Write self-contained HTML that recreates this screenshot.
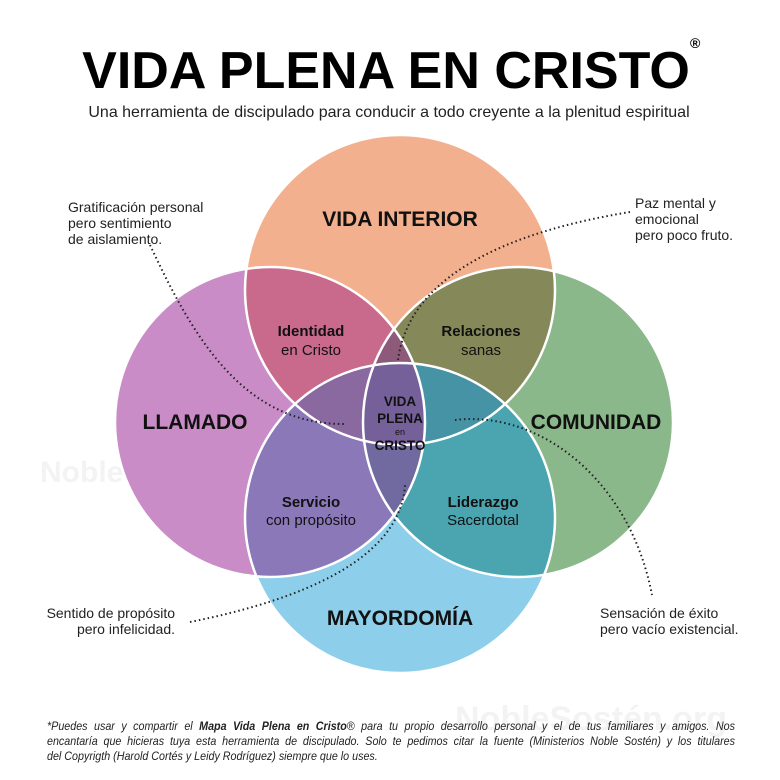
<!DOCTYPE html><html><head><meta charset="utf-8"><style>
body{margin:0;width:780px;height:780px;background:#fff;font-family:"Liberation Sans",sans-serif;overflow:hidden;position:relative}
.f{position:absolute;left:47px;width:770px;top:719px;font-size:12px;font-style:italic;line-height:15px;color:#222;transform:scaleX(0.8935);transform-origin:0 0}
.f div{text-align:justify;text-align-last:justify;white-space:nowrap}
.f div.l{text-align-last:left}
</style></head><body>
<svg width="780" height="780" style="position:absolute;left:0;top:0" font-family="Liberation Sans, sans-serif">
<defs>
<clipPath id="cT"><circle cx="400" cy="290" r="155"/></clipPath>
<clipPath id="cL"><circle cx="270" cy="422" r="155"/></clipPath>
<clipPath id="cR"><circle cx="518" cy="422" r="155"/></clipPath>
<clipPath id="cB"><circle cx="400" cy="518" r="155"/></clipPath>
</defs>
<text x="40" y="482" font-size="30" font-weight="bold" fill="#f3f3f3">NobleSostén.org</text>
<text x="455" y="730" font-size="34" font-weight="bold" fill="#f3f3f3">NobleSostén.org</text>
<circle cx="400" cy="518" r="155" fill="#8dcfea"/>
<circle cx="270" cy="422" r="155" fill="#c98cc6"/>
<circle cx="518" cy="422" r="155" fill="#8ab88a"/>
<circle cx="400" cy="290" r="155" fill="#f2b08f"/>
<g clip-path="url(#cT)"><circle cx="270" cy="422" r="155" fill="#c96a8c"/><circle cx="518" cy="422" r="155" fill="#85895a"/></g>
<g clip-path="url(#cB)"><circle cx="270" cy="422" r="155" fill="#8b78b8"/><circle cx="518" cy="422" r="155" fill="#4aa5b0"/></g>
<g clip-path="url(#cT)"><g clip-path="url(#cB)"><circle cx="270" cy="422" r="155" fill="#8a68a0"/><circle cx="518" cy="422" r="155" fill="#4693a6"/></g></g>
<g clip-path="url(#cL)"><g clip-path="url(#cR)"><circle cx="400" cy="290" r="155" fill="#8d5a7a"/><circle cx="400" cy="518" r="155" fill="#706aa0"/></g></g>
<g clip-path="url(#cL)"><g clip-path="url(#cR)"><g clip-path="url(#cT)"><circle cx="400" cy="518" r="155" fill="#76609a"/></g></g></g>
<g fill="none" stroke="#fff" stroke-width="2.5">
<circle cx="400" cy="290" r="155"/><circle cx="270" cy="422" r="155"/><circle cx="518" cy="422" r="155"/><circle cx="400" cy="518" r="155"/></g>
<g fill="none" stroke="#222" stroke-width="2" stroke-dasharray="1.5 3">
<path d="M150 245 C190 330 240 425 345 424"/>
<path d="M630 212 C520 230 410 270 398 360"/>
<path d="M190 622 C300 600 400 560 405 485"/>
<path d="M455 420 C540 410 630 480 652 595"/>
</g>
<text x="386" y="88" text-anchor="middle" font-size="52" font-weight="bold" fill="#000">VIDA PLENA EN CRISTO</text>
<text x="690" y="48" font-size="14" font-weight="bold">®</text>
<text x="389" y="117" text-anchor="middle" font-size="16" fill="#222">Una herramienta de discipulado para conducir a todo creyente a la plenitud espiritual</text>
<g font-weight="bold" font-size="21" text-anchor="middle" fill="#111">
<text x="400" y="226">VIDA INTERIOR</text><text x="195" y="429">LLAMADO</text><text x="596" y="429">COMUNIDAD</text><text x="400" y="625">MAYORDOMÍA</text></g>
<g font-size="15" text-anchor="middle" fill="#111">
<text x="311" y="336" font-weight="bold">Identidad</text><text x="311" y="355">en Cristo</text>
<text x="481" y="336" font-weight="bold">Relaciones</text><text x="481" y="355">sanas</text>
<text x="311" y="507" font-weight="bold">Servicio</text><text x="311" y="525">con propósito</text>
<text x="483" y="507" font-weight="bold">Liderazgo</text><text x="483" y="525">Sacerdotal</text>
<g font-weight="bold" font-size="13.5"><text x="400" y="406">VIDA</text><text x="400" y="423">PLENA</text><text x="400" y="450">CRISTO</text></g>
<text x="400" y="435" font-size="9">en</text></g>
<g font-size="14" fill="#222">
<text x="68" y="212">Gratificación personal</text><text x="68" y="228">pero sentimiento</text><text x="68" y="244">de aislamiento.</text>
<text x="635" y="208">Paz mental y</text><text x="635" y="224">emocional</text><text x="635" y="240">pero poco fruto.</text>
<text x="175" y="618" text-anchor="end">Sentido de propósito</text><text x="175" y="634" text-anchor="end">pero infelicidad.</text>
<text x="600" y="618">Sensación de éxito</text><text x="600" y="634">pero vacío existencial.</text></g>
</svg>
<div class="f"><div>*Puedes usar y compartir el <b>Mapa Vida Plena en Cristo</b>® para tu propio desarrollo personal y el de tus familiares y amigos. Nos</div><div>encantaría que hicieras tuya esta herramienta de discipulado. Solo te pedimos citar la fuente (Ministerios Noble Sostén) y los titulares</div><div class="l">del Copyrigth (Harold Cortés y Leidy Rodríguez) siempre que lo uses.</div></div>
</body></html>
